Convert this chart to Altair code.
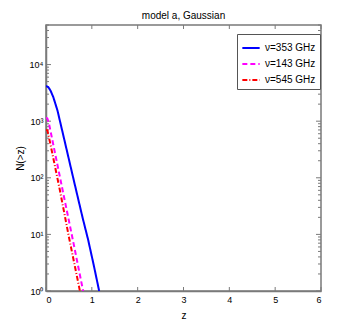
import altair as alt
import pandas as pd

# Data
series_names = ["ν=353 GHz", "ν=143 GHz", "ν=545 GHz"]
z_353 = [0.0, 0.05, 0.1, 0.16, 0.25, 0.4, 0.6, 0.8, 0.92, 1.04, 1.16]
n_353 = [4200, 4000, 3450, 2650, 1550, 470, 95, 19.5, 8.0, 2.9, 1.0]
z_143 = [0.0, 0.03, 0.066, 0.2, 0.4, 0.6, 0.81]
n_143 = [1150, 1120, 900, 265, 43, 7.0, 1.0]
z_545 = [0.0, 0.03, 0.1, 0.3, 0.5, 0.74]
n_545 = [700, 690, 380, 62, 9.0, 1.0]

x_ticks = [0, 1, 2, 3, 4, 5, 6]
y_major = [1, 10, 100, 1000, 10000]
y_minor = [m * p for p in [1, 10, 100, 1000, 10000] for m in range(2, 10) if m * p <= 50000]

rows = []
for name, zs, ns in zip(series_names, [z_353, z_143, z_545], [n_353, n_143, n_545]):
    for z, n in zip(zs, ns):
        rows.append({"series": name, "z": z, "N": n})
df = pd.DataFrame(rows)

W, H = 275, 266
frame = "#7a7a7a"
font = "Liberation Sans"

xscale = alt.Scale(domain=[0, 6], nice=False)
yscale = alt.Scale(type="log", domain=[1, 50000], nice=False)

label_expr = ("datum.value == 1 ? '10⁰' : datum.value == 10 ? '10¹' : datum.value == 100 ? '10²' : "
              "datum.value == 1000 ? '10³' : datum.value == 10000 ? '10⁴' : ''")

lines = alt.Chart(df).mark_line(strokeWidth=2, clip=True).encode(
    x=alt.X("z:Q", scale=xscale, title="z",
            axis=alt.Axis(values=x_ticks, ticks=False, grid=False, labelPadding=4,
                          titlePadding=6, format="d")),
    y=alt.Y("N:Q", scale=yscale, title="N(>z)",
            axis=alt.Axis(values=y_major, ticks=False, grid=False, labelExpr=label_expr,
                          labelPadding=3, titlePadding=4)),
    color=alt.Color("series:N", scale=alt.Scale(domain=series_names,
                                                 range=["#0000ff", "#ff00ff", "#ff0000"]),
                    legend=alt.Legend(title=None, orient="none", legendX=191, legendY=9,
                                      symbolType="stroke", symbolStrokeWidth=2, symbolSize=300,
                                      strokeColor="#555", fillColor="white", padding=4,
                                      labelFontSize=10, rowPadding=1, labelOffset=4)),
    strokeDash=alt.StrokeDash("series:N", scale=alt.Scale(domain=series_names,
                                                          range=[[1, 0], [5, 3], [5, 2, 1, 2]]),
                              legend=None),
)

ymaj_df = pd.DataFrame({"v": y_major})
ymin_df = pd.DataFrame({"v": y_minor})
x_df = pd.DataFrame({"v": x_ticks})

def yticks(data, length):
    left = alt.Chart(data).mark_rule(color=frame, strokeWidth=1).encode(
        y=alt.Y("v:Q", scale=yscale), x=alt.value(0), x2=alt.value(length))
    right = alt.Chart(data).mark_rule(color=frame, strokeWidth=1).encode(
        y=alt.Y("v:Q", scale=yscale), x=alt.value(W), x2=alt.value(W - length))
    return left + right

xt_bottom = alt.Chart(x_df).mark_rule(color=frame, strokeWidth=1).encode(
    x=alt.X("v:Q", scale=xscale), y=alt.value(H), y2=alt.value(H - 4))
xt_top = alt.Chart(x_df).mark_rule(color=frame, strokeWidth=1).encode(
    x=alt.X("v:Q", scale=xscale), y=alt.value(0), y2=alt.value(4))

chart = alt.layer(
    yticks(ymin_df, 3), yticks(ymaj_df, 5), xt_bottom, xt_top, lines
).properties(
    width=W, height=H,
    title=alt.TitleParams("model a, Gaussian", fontSize=10, fontWeight="normal", font=font,
                          offset=4, color="black"),
    padding={"left": 38, "top": 17, "right": 25, "bottom": 34},
    autosize="none",
).configure_view(stroke=frame, strokeWidth=1.5).configure_axis(
    domainColor=frame, domainWidth=1.5, labelFont=font, titleFont=font, labelFontSize=9,
    titleFontSize=10, titleFontWeight="normal", labelColor="black", titleColor="black"
).configure_legend(labelFont=font)

chart.save("out.html", embed_options={"renderer": "svg", "actions": False})
